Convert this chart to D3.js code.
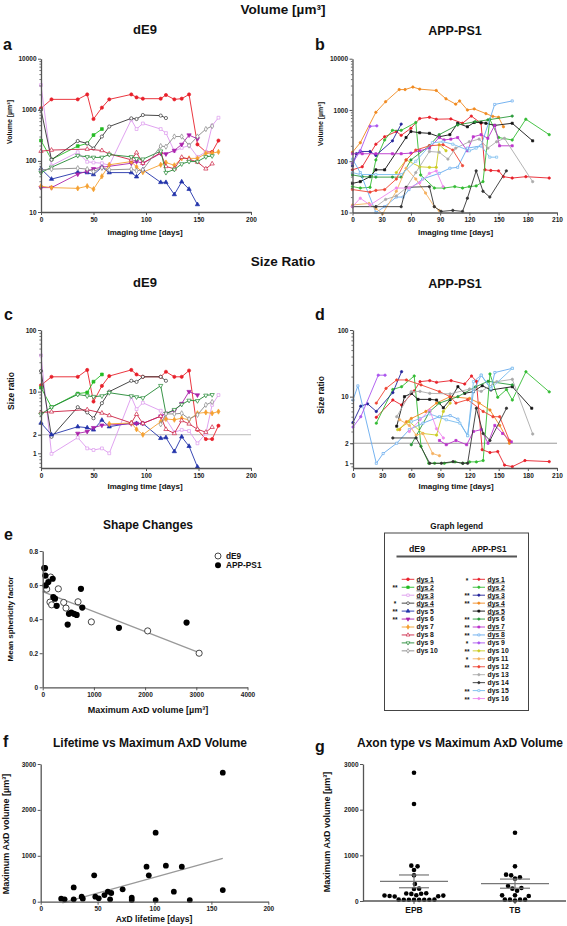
<!DOCTYPE html>
<html><head><meta charset="utf-8">
<script src="https://cdn.jsdelivr.net/npm/d3@7"></script>
<style>body{margin:0;background:#fff}svg{display:block}</style>
</head><body>
<script>
// ---------------- DATA ----------------
const dE9Days = [0,10,35,44,50,58,65,86,91,97,114,119,127,134,141,149,157,163,169];
// Panel a: volume dE9
const aDys1 = [1070,1600,1600,2000,660,1100,1600,2000,1750,1650,1650,1950,1600,1650,2000,210,150,150,250];
const aDys2 = [250,107,195,220,320,420,null,null,null,null,null,null,null,null,null,null,null,null,null];
const aDys3 = [3050,81,148,96,93,90,82,640,420,540,420,350,155,180,200,120,150,490,700];
const aDys4 = [1000,105,245,220,175,300,470,680,660,790,770,690,null,null,null,null,null,null,null];
const aDys5 = [70,44,60,59,54,75,59,59,49,67,38,38,22,39,28,14,null,null,null];
const aDys6 = [30,30,55,63,70,75,null,90,97,90,140,137,160,210,320,270,null,null,null];
const aDys7 = [32,30,29,32,28,50,84,97,76,60,84,93,82,112,112,112,140,142,150];
const aDys8 = [155,163,null,170,null,160,137,105,145,90,145,78,70,118,108,95,70,88,null];
const aDys9 = [59,75,127,120,117,117,133,120,110,108,155,59,68,87,97,97,120,125,null];
const aDys10 = [67,69,72,69,62,73,67,69,64,67,195,190,300,300,200,300,420,480,null];
// Panel c: size ratio dE9
const cDys1 = [12.7,17.4,17.4,22.5,6.9,12.4,17.9,22.5,19,17.4,17.4,21,17.4,17.4,22,2.4,1.7,1.7,2.8];
const cDys2 = [11.6,5.6,9.3,9.7,14.5,19,null,null,null,null,null,null,null,null,null,null,null,null,null];
const cDys3 = [38.7,0.98,1.8,1.2,1.13,1.2,1.0,8.2,5.2,6.6,4.9,3.6,2.2,2.4,2.3,1.45,2.1,6.1,8.8];
const cDys4 = [21.6,1.85,5.6,4.6,3.7,6.5,10,15,14.4,17.4,17.4,15,null,null,null,null,null,null,null];
const cDys5 = [3.1,2.0,2.7,2.6,2.4,3.45,2.7,3.1,3.05,3.05,1.75,1.8,1.07,1.85,1.3,0.6,null,null,null];
const cDys6 = [null,null,2.1,2.25,2.6,2.85,null,3.0,3.05,3.05,4.0,4.45,4.9,6.4,10,8.8,null,null,null];
const cDys7 = [null,null,null,null,null,null,3.0,3.1,2.45,2.0,3.25,3.6,3.5,3.7,3.5,4.45,4.6,4.45,4.75];
const cDys8 = [4.6,4.7,null,5.1,null,4.5,4.1,3.1,4.3,3.05,4.0,2.45,2.1,3.4,3.0,2.45,2.2,2.65,null];
const cDys9 = [4.3,5.6,9.0,8.5,8.3,8.5,9.6,8.5,8.2,7.9,12.5,4.4,5.1,6.2,7.2,7.1,8.7,8.9,null];
const cDys10 = [null,null,null,null,null,null,null,null,null,null,2.95,4.35,4.35,4.45,3.6,4.2,6.1,6.8,null];
// Panel b: volume APP-PS1 ([day, volume])
const bDys1 = [[0,68],[10,78],[24,215],[33,300],[45,380],[50,320],[60,440],[69,680],[79,720],[86,660],[101,670],[113,550],[122,760],[132,550],[136,68],[142,66],[150,65],[155,50],[164,47],[178,50],[202,47]];
const bDys2 = [[0,32],[8,30],[18,31],[24,106],[33,260],[41,400],[50,400],[65,570],[70,54],[84,30],[94,30],[105,32],[113,30],[120,32],[127,33],[134,40],[141,660],[150,290],[164,260],[178,660],[202,330]];
const bDys3 = [[0,81],[4,140],[8,155],[18,155],[24,130],[41,250],[50,530]];
const bDys4 = [[0,150],[8,230],[24,900],[34,1450],[48,2500],[54,2500],[62,2800],[69,2550],[86,2400],[96,1650],[106,1300],[110,1500],[118,1000],[125,1050],[137,850],[144,750],[150,720],[155,470]];
const bDys5 = [[0,37],[8,40],[18,50],[24,68],[33,68],[55,290],[60,380],[69,360],[79,350],[89,300],[100,330],[108,550],[118,470],[125,570],[132,570],[137,550],[146,500],[164,550],[185,250]];
const bDys6 = [[0,54],[10,50],[24,49],[41,49],[50,49],[60,106],[79,200],[89,330],[108,510],[126,590],[139,640],[164,760]];
const bDys7 = [[0,140],[10,140],[24,140],[41,140],[50,140],[60,144],[69,160],[79,180],[89,290],[94,260],[101,270],[108,290],[118,160],[124,300],[132,330],[139,280],[146,500],[151,200],[164,200]];
const bDys8 = [[0,110],[8,60],[24,10],[33,13],[45,20],[52,20],[58,28],[72,45],[89,58],[100,73],[108,76],[118,180],[132,200],[146,1280],[164,1500]];
const bDys9 = [[0,91],[8,160],[18,480],[25,490]];
const bDys10 = [[45,60],[55,106],[69,78],[79,76],[86,76],[89,210],[96,160]];
const bDys11 = [[0,14],[17,15],[24,12],[31,9.5],[45,26],[55,73],[65,45],[75,24],[84,13],[89,11]];
const bDys12 = [[0,28],[18,25],[24,27],[33,28],[45,45],[55,106],[65,165],[79,200],[93,210],[103,165],[113,82]];
const bDys13 = [[24,13],[34,18],[45,21],[55,30],[65,60],[79,155],[89,150],[98,110],[106,180],[120,240],[130,270],[139,180],[148,240],[156,280],[185,40]];
const bDys14 = [[0,13],[24,13],[50,13],[55,31],[79,32],[84,13],[91,10.5],[103,11],[113,10.5],[118,19],[127,65],[134,26],[141,20],[158,65]];
const bDys15 = [[0,60],[8,55],[24,55],[50,55],[65,100],[82,230],[93,240],[103,215],[120,160],[127,180],[132,200],[141,120],[148,120]];
const bDys16 = [[0,13],[8,19],[18,14],[45,30],[58,30],[69,38],[79,58],[86,65],[93,32]];
// Panel d: size ratio APP-PS1 ([day, ratio])
const dDys1 = [[24,4.9],[41,8.9],[50,7.5],[63,12.2],[69,16.8],[79,17.4],[86,16.4],[101,17.4],[115,15.5],[122,20.4],[127,17],[133,1.6],[141,1.45],[149,1.5],[156,0.94],[164,0.89],[177,1.1],[202,1.06]];
const dDys2 = [[24,4.0],[41,12.8],[50,14.1],[63,20.4],[70,1.8],[78,1.0],[84,1.0],[94,1.0],[105,1.05],[113,1.0],[120,1.05],[127,1.05],[134,1.1],[141,21.9],[149,9.8],[158,12.8],[164,8.9],[178,23.6],[202,11.8]];
const dDys3 = [[0,4.1],[8,7.2],[15,7.8],[24,6.0],[41,11.5],[50,23.7]];
const dDys4 = [[48,3.2],[55,4.2],[60,4.7],[75,6],[86,8],[100,10],[120,9.4],[130,8],[141,6.3],[151,3.7],[161,2]];
const dDys5 = [[45,3.6],[53,10],[60,11.2],[67,9.1],[79,9.1],[86,8.9],[93,6.8],[100,9],[108,14.1],[115,11.2],[124,11.9],[133,14.6],[142,12.6],[164,14.1],[184,6.7]];
const dDys6 = [[60,1.9],[79,6],[89,8],[108,10],[126,14],[139,17],[164,15]];
const dDys7 = [[89,2.2],[96,1.9],[106,2.2],[117,1.9],[124,3],[132,3.2],[139,2.0],[146,3.7],[154,2.8],[163,2.1]];
const dDys8 = [[0,8.9],[5,14.5],[24,1.0],[31,1.4],[45,2.0],[58,3.2],[72,4],[89,5],[100,5.2],[108,4.6],[118,2.6],[124,12],[132,21],[142,13],[146,23],[164,26.6]];
const dDys9 = [[0,3.5],[8,5.0],[26,21],[33,21]];
const dDys10 = [[46,3.2],[58,4.2],[72,2.8],[86,2.65],[93,6],[100,8]];
const dDys11 = [[48,4.5],[58,3.7],[65,2.65],[72,2.8],[82,1.4],[89,1.3]];
const dDys12 = [[24,8],[34,13.3],[45,17.8],[55,17.8],[70,15],[89,11.9],[100,10],[106,8],[118,9],[134,6],[144,5],[151,5],[161,2.2]];
const dDys13 = [[45,5],[60,11.9],[69,12],[79,11.2],[100,11],[120,13],[132,12],[148,16.8],[164,18.2],[185,2.75]];
const dDys14 = [[41,2.4],[65,2.4],[79,1.0],[91,1.0],[103,1.06],[113,1.0],[118,1.0],[127,6.7],[134,2.8],[141,2.2],[158,6.7]];
const dDys15 = [[60,4.2],[69,4.7],[79,5.5],[96,4.5],[110,4],[118,2.6],[124,16.8],[132,21],[142,13.3],[164,26.6]];
const dDys16 = [[58,3],[69,4.5],[79,6.3],[86,3.3],[93,2.4]];
// Panel e: [max volume, mean sphericity]
const eDE9 = [[78,0.576],[156,0.647],[142,0.50],[175,0.484],[305,0.578],[410,0.498],[455,0.465],[690,0.502],[950,0.384],[2050,0.331],[3055,0.2]];
const eAPP = [[31,0.70],[45,0.70],[51,0.656],[58,0.598],[110,0.618],[195,0.637],[207,0.53],[240,0.52],[273,0.478],[488,0.368],[513,0.431],[558,0.439],[611,0.431],[663,0.425],[747,0.578],[773,0.468],[1489,0.349],[2810,0.38]];
const eFit = [[0,0.562],[3080,0.2]];
// Panel f: [lifetime, max volume]
const fPoints = [[18,65],[21,51],[29,51],[29,312],[36,109],[37,65],[47,574],[48,109],[51,73],[56,145],[59,218],[62,189],[61,51],[72,269],[80,87],[80,36],[93,762],[95,574],[101,1503],[101,36],[110,784],[117,218],[124,762],[131,36],[160,2810],[160,254]];
const fFit = [[19,-25],[160,944]];
// Panel g
const gCategories = ["EPB","TB"];
const gEPB = [2810,2124,774,759,679,562,372,270,262,170,165,160,155,125,118,110,105,100,120,30,28,26,25,25,26,28,30];
const gTB = [1496,759,577,562,518,489,328,285,270,226,124,124,109,30,30,10,30,30];
const gMeans = [430,380];
const gSEM = [140,100];
// Legend
const dE9Names = ["dys 1","dys 2","dys 3","dys 4","dys 5","dys 6","dys 7","dys 8","dys 9","dys 10"];
const dE9Stars = ["","**","","*","**","**","","","",""];
const dE9Under = [1,1,1,1,0,0,0,0,0,0];
const appNames = ["dys 1","dys 2","dys 3","dys 4","dys 5","dys 6","dys 7","dys 8","dys 9","dys 10","dys 11","dys 12","dys 13","dys 14","dys 15","dys 16"];
const appStars = ["*","","**","**","","**","**","**","*","**","*","**","","","**","**"];
const appUnder = [1,1,1,1,1,0,1,1,0,0,0,0,0,0,0,0];

// ---------------- STYLES ----------------
const FONT = '"Liberation Sans", Arial, Helvetica, sans-serif';
const dE9Colors = ["#e8202a","#22bb22","#dd99ee","#333333","#2233aa","#aa22aa","#f5a030","#cc2244","#228833","#888888"];
const dE9Shapes = [d3.symbolCircle,d3.symbolSquare,d3.symbolSquare,d3.symbolCircle,d3.symbolTriangle,d3.symbolTriangle,d3.symbolDiamond,d3.symbolTriangle,d3.symbolTriangle,d3.symbolDiamond];
const dE9Rot = [0,0,0,0,0,180,0,0,180,0];
const dE9Open = [0,0,1,1,0,0,0,1,1,1];
const appColors = ["#e8202a","#33bb33","#222299","#f08a20","#111111","#2a9a3a","#bb33cc","#66aaee","#aa55ee","#cccc22","#f5b060","#ee4433","#aaaaaa","#333333","#77bbee","#ee88ee"];
const appShapes = [d3.symbolCircle,d3.symbolCircle,d3.symbolCircle,d3.symbolCircle,d3.symbolSquare,d3.symbolCircle,d3.symbolSquare,d3.symbolSquare,d3.symbolCircle,d3.symbolCircle,d3.symbolCircle,d3.symbolCircle,d3.symbolCircle,d3.symbolCircle,d3.symbolSquare,d3.symbolCircle];
const appOpen = [0,0,0,0,0,0,0,1,0,0,0,0,0,0,1,0];

const svg = d3.select("body").append("svg").attr("width",567).attr("height",926)
  .style("font-family",FONT).style("font-weight","bold");

function text(x,y,s,fs,anchor){
  return svg.append("text").attr("x",x).attr("y",y).attr("font-size",fs)
    .attr("text-anchor",anchor||"middle").attr("fill","#111").text(s);
}
function ytitle(x,y,s,fs){
  svg.append("text").attr("transform",`translate(${x},${y}) rotate(-90)`)
    .attr("text-anchor","middle").attr("dominant-baseline","central")
    .attr("font-size",fs).attr("fill","#111").text(s);
}
function styleAxis(g,fs){
  g.attr("font-family",FONT).attr("font-weight","bold").attr("font-size",fs);
  g.selectAll("path.domain").attr("stroke","#555").attr("stroke-width",1.3);
  g.selectAll(".tick line").attr("stroke","#555").attr("stroke-width",1);
  g.selectAll(".tick text").attr("fill","#222");
}
function drawAxes(xS,yS,xTicks,yTicks,yFmt,yMinor,fs,xFmt){
  const y0 = yS.range()[0], x0 = xS.range()[0];
  const gx = svg.append("g").attr("transform",`translate(0,${y0})`)
    .call(d3.axisBottom(xS).tickValues(xTicks).tickFormat(xFmt||d3.format("d")).tickSize(3).tickSizeOuter(0).tickPadding(2));
  styleAxis(gx,fs);
  if (yMinor){
    const gm = svg.append("g").attr("transform",`translate(${x0},0)`)
      .call(d3.axisLeft(yS).tickValues(yMinor).tickSize(1.6).tickFormat(""));
    gm.select("path.domain").remove();
    gm.selectAll(".tick line").attr("stroke","#555").attr("stroke-width",0.8);
  }
  const gy = svg.append("g").attr("transform",`translate(${x0},0)`)
    .call(d3.axisLeft(yS).tickValues(yTicks).tickFormat(yFmt).tickSize(3).tickSizeOuter(0).tickPadding(1.5));
  styleAxis(gy,fs);
}
function logMinor(lo,hi){
  const out=[];
  for(let dec=lo; dec<hi; dec*=10) for(let k=2;k<=9;k++) out.push(dec*k);
  return out;
}
function drawSeries(xS,yS,pts,color,shape,rot,open,msize,lw){
  svg.append("path").datum(pts).attr("fill","none").attr("stroke",color).attr("stroke-width",lw)
    .attr("d",d3.line().x(d=>xS(d[0])).y(d=>yS(d[1])));
  svg.append("g").selectAll("path").data(pts).join("path")
    .attr("transform",d=>`translate(${xS(d[0])},${yS(d[1])}) rotate(${rot})`)
    .attr("d",d3.symbol(shape,msize))
    .attr("fill",open?"#fff":color).attr("stroke",color).attr("stroke-width",0.7);
}

// ---------------- TITLES ----------------
text(283,14,"Volume [µm³]",13.5);
text(283,266,"Size Ratio",13.5);
text(145,33.5,"dE9",13); text(455,35,"APP-PS1",12.5);
text(145,286.5,"dE9",13); text(455,288,"APP-PS1",12.5);
text(3,50,"a",16,"start"); text(315,50,"b",16,"start");
text(4,320,"c",16,"start"); text(315,320,"d",16,"start");

// ---------------- PANEL A ----------------
{
  const x = d3.scaleLinear().domain([0,200]).range([41,251]);
  const y = d3.scaleLog().domain([10,10000]).range([212,58.7]);
  const series = [aDys1,aDys2,aDys3,aDys4,aDys5,aDys6,aDys7,aDys8,aDys9,aDys10];
  series.forEach((vals,i)=>{
    const pts = dE9Days.map((d,j)=>[d,vals[j]]).filter(p=>p[1]!=null);
    drawSeries(x,y,pts,dE9Colors[i],dE9Shapes[i],dE9Rot[i],dE9Open[i],8,0.9);
  });
  drawAxes(x,y,[0,50,100,150,200],[10,100,1000,10000],d3.format("d"),logMinor(10,10000),6.5);
  ytitle(9,122,"Volume [µm³]",7);
  text(145,234.5,"Imaging time [days]",8);
}
// ---------------- PANEL B ----------------
{
  const x = d3.scaleLinear().domain([0,210]).range([352.5,557]);
  const y = d3.scaleLog().domain([10,10000]).range([212.5,58.7]);
  const series = [bDys1,bDys2,bDys3,bDys4,bDys5,bDys6,bDys7,bDys8,bDys9,bDys10,bDys11,bDys12,bDys13,bDys14,bDys15,bDys16];
  series.forEach((pts,i)=>drawSeries(x,y,pts,appColors[i],appShapes[i],0,appOpen[i],4.5,0.9));
  drawAxes(x,y,[0,30,60,90,120,150,180,210],[10,100,1000,10000],d3.format("d"),logMinor(10,10000),6.5);
  ytitle(320.5,124,"Volume [µm³]",7);
  text(455.5,234.5,"Imaging time [days]",8);
}
// ---------------- PANEL C ----------------
{
  const x = d3.scaleLinear().domain([0,200]).range([41,251]);
  const y = d3.scaleLog().domain([0.577,100]).range([468,330]);
  svg.append("line").attr("x1",x(0)).attr("x2",x(200)).attr("y1",y(2)).attr("y2",y(2))
    .attr("stroke","#bbb").attr("stroke-width",1);
  const series = [cDys1,cDys2,cDys3,cDys4,cDys5,cDys6,cDys7,cDys8,cDys9,cDys10];
  series.forEach((vals,i)=>{
    const pts = dE9Days.map((d,j)=>[d,vals[j]]).filter(p=>p[1]!=null);
    drawSeries(x,y,pts,dE9Colors[i],dE9Shapes[i],dE9Rot[i],dE9Open[i],8,0.9);
  });
  drawAxes(x,y,[0,50,100,150,200],[1,2,10,100],d3.format("d"),[0.6,0.7,0.8,0.9].concat(logMinor(1,100)),6.5);
  ytitle(11,391,"Size ratio",8.5);
  text(145,489,"Imaging time [days]",8);
}
// ---------------- PANEL D ----------------
{
  const x = d3.scaleLinear().domain([0,210]).range([353,557]);
  const y = d3.scaleLog().domain([0.85,100]).range([468,330]);
  svg.append("line").attr("x1",x(0)).attr("x2",x(210)).attr("y1",y(2)).attr("y2",y(2))
    .attr("stroke","#999").attr("stroke-width",1);
  const series = [dDys1,dDys2,dDys3,dDys4,dDys5,dDys6,dDys7,dDys8,dDys9,dDys10,dDys11,dDys12,dDys13,dDys14,dDys15,dDys16];
  series.forEach((pts,i)=>drawSeries(x,y,pts,appColors[i],appShapes[i],0,appOpen[i],4.5,0.9));
  drawAxes(x,y,[0,30,60,90,120,150,180,210],[1,2,10,100],d3.format("d"),[0.9].concat(logMinor(1,100)),6.5);
  ytitle(320.5,395,"Size ratio",8.5);
  text(456,489,"Imaging time [days]",8);
}
// ---------------- PANEL E ----------------
{
  text(148,529,"Shape Changes",12);
  text(4,540,"e",16,"start");
  const x = d3.scaleLinear().domain([0,4000]).range([42.7,247.5]);
  const y = d3.scaleLinear().domain([0,0.8]).range([687.3,551]);
  svg.append("path").datum(eFit).attr("fill","none").attr("stroke","#999").attr("stroke-width",1.3)
    .attr("d",d3.line().x(d=>x(d[0])).y(d=>y(d[1])));
  svg.append("g").selectAll("circle").data(eDE9).join("circle")
    .attr("cx",d=>x(d[0])).attr("cy",d=>y(d[1])).attr("r",3.1)
    .attr("fill","#fff").attr("stroke","#333").attr("stroke-width",0.9);
  svg.append("g").selectAll("circle").data(eAPP).join("circle")
    .attr("cx",d=>x(d[0])).attr("cy",d=>y(d[1])).attr("r",3.1).attr("fill","#000");
  drawAxes(x,y,[0,1000,2000,3000,4000],[0,0.2,0.4,0.6,0.8],d3.format(""),null,6.5);
  ytitle(10,619,"Mean sphericity factor",8);
  text(148,713,"Maximum AxD volume [µm³]",9);
  svg.append("circle").attr("cx",218).attr("cy",556).attr("r",3).attr("fill","#fff").attr("stroke","#333").attr("stroke-width",0.9);
  svg.append("circle").attr("cx",218).attr("cy",565.3).attr("r",3).attr("fill","#000");
  text(226,559,"dE9",8.3,"start");
  text(226,568.3,"APP-PS1",8.3,"start");
}
// ---------------- LEGEND ----------------
{
  text(456.7,529,"Graph legend",8.2);
  svg.append("rect").attr("x",384.5).attr("y",533).attr("width",144).attr("height",177.5)
    .attr("fill","none").attr("stroke","#444").attr("stroke-width",1);
  text(417,552,"dE9",8.7); text(489,552,"APP-PS1",8.2);
  svg.append("line").attr("x1",396.5).attr("x2",517).attr("y1",556.5).attr("y2",556.5)
    .attr("stroke","#555").attr("stroke-width",2);
  const rowY = i => 579.3 + i*7.95;
  function entry(i,name,star,under,color,shape,rot,open,msize,lx1,lx2,tx,sx){
    const cy = rowY(i);
    svg.append("line").attr("x1",lx1).attr("x2",lx2).attr("y1",cy).attr("y2",cy).attr("stroke",color).attr("stroke-width",0.9);
    svg.append("path").attr("transform",`translate(${(lx1+lx2)/2},${cy}) rotate(${rot})`)
      .attr("d",d3.symbol(shape,msize)).attr("fill",open?"#fff":color).attr("stroke",color).attr("stroke-width",0.7);
    const t = text(tx,cy+2.4,name,6.8,"start");
    if (under){
      const w = t.node().getComputedTextLength();
      svg.append("line").attr("x1",tx).attr("x2",tx+w).attr("y1",cy+3.6).attr("y2",cy+3.6).attr("stroke","#111").attr("stroke-width",0.6);
    }
    if (star) text(sx,cy+3.2,star,6.5,"middle");
  }
  dE9Names.forEach((n,i)=>entry(i,n,dE9Stars[i],dE9Under[i],dE9Colors[i],dE9Shapes[i],dE9Rot[i],dE9Open[i],6,401.7,414.3,416.5,395));
  appNames.forEach((n,i)=>entry(i,n,appStars[i],appUnder[i],appColors[i],appShapes[i],0,appOpen[i],4,472.7,485,487.5,467));
}
// ---------------- PANEL F ----------------
{
  text(150,747,"Lifetime vs Maximum AxD Volume",12);
  text(3,747,"f",16,"start");
  const x = d3.scaleLinear().domain([0,200]).range([40.7,268.3]);
  const y = d3.scaleLinear().domain([0,3000]).range([901.7,764]);
  svg.append("path").datum(fFit).attr("fill","none").attr("stroke","#999").attr("stroke-width",1.3)
    .attr("d",d3.line().x(d=>x(d[0])).y(d=>y(d[1])));
  svg.append("g").selectAll("circle").data(fPoints).join("circle")
    .attr("cx",d=>x(d[0])).attr("cy",d=>y(d[1])).attr("r",2.9).attr("fill","#000");
  drawAxes(x,y,[0,50,100,150,200],[0,1000,2000,3000],d3.format("d"),null,6.5);
  ytitle(6,834,"Maximum AxD volume [µm³]",9);
  text(154,922,"AxD lifetime [days]",8.5);
}
// ---------------- PANEL G ----------------
{
  text(460,747,"Axon type vs Maximum AxD Volume",12);
  text(315,752,"g",16,"start");
  const y = d3.scaleLinear().domain([0,3000]).range([901,764]);
  const x = d3.scalePoint().domain(gCategories).range([414,515]);
  const axisX0 = 363, axisX1 = 566;
  const r = 2.3, D = 2*r + 0.5;
  // compact beeswarm layout
  function swarm(vals,cx){
    const placed=[];
    vals.slice().sort((a,b)=>a-b).forEach(v=>{
      const cy=y(v);
      const cands=[cx];
      placed.forEach(p=>{
        const dy=Math.abs(p[1]-cy);
        if (dy<D){ const dx=Math.sqrt(D*D-dy*dy); cands.push(p[0]+dx+0.01,p[0]-dx-0.01); }
      });
      cands.sort((a,b)=>Math.abs(a-cx)-Math.abs(b-cx));
      const px = cands.find(c=>placed.every(p=>Math.hypot(p[0]-c,p[1]-cy)>=D-0.001));
      placed.push([px,cy]);
    });
    return placed;
  }
  [gEPB,gTB].forEach((vals,i)=>{
    const cx = x(gCategories[i]);
    const pts = swarm(vals,cx);
    svg.append("g").selectAll("circle").data(pts).join("circle")
      .attr("cx",d=>d[0]).attr("cy",d=>d[1]).attr("r",r).attr("fill","#000");
    const m=gMeans[i], s=gSEM[i];
    svg.append("line").attr("x1",cx-34).attr("x2",cx+34).attr("y1",y(m)).attr("y2",y(m)).attr("stroke","#777").attr("stroke-width",1.3);
    svg.append("line").attr("x1",cx).attr("x2",cx).attr("y1",y(m-s)).attr("y2",y(m+s)).attr("stroke","#777").attr("stroke-width",1.2);
    [m-s,m+s].forEach(v=>svg.append("line").attr("x1",cx-15).attr("x2",cx+15).attr("y1",y(v)).attr("y2",y(v)).attr("stroke","#777").attr("stroke-width",1.2));
  });
  const gy = svg.append("g").attr("transform",`translate(${axisX0},0)`)
    .call(d3.axisLeft(y).tickValues([0,1000,2000,3000]).tickFormat(d3.format("d")).tickSize(3).tickSizeOuter(0).tickPadding(1.5));
  styleAxis(gy,6.5);
  svg.append("line").attr("x1",axisX0).attr("x2",axisX1).attr("y1",901).attr("y2",901).attr("stroke","#555").attr("stroke-width",1.3);
  gCategories.forEach(c=>{
    svg.append("line").attr("x1",x(c)).attr("x2",x(c)).attr("y1",901).attr("y2",904).attr("stroke","#555");
    text(x(c),913,c,8.5);
  });
  ytitle(326.5,832,"Maximum AxD volume [µm³]",9);
}
</script>
</body></html>
